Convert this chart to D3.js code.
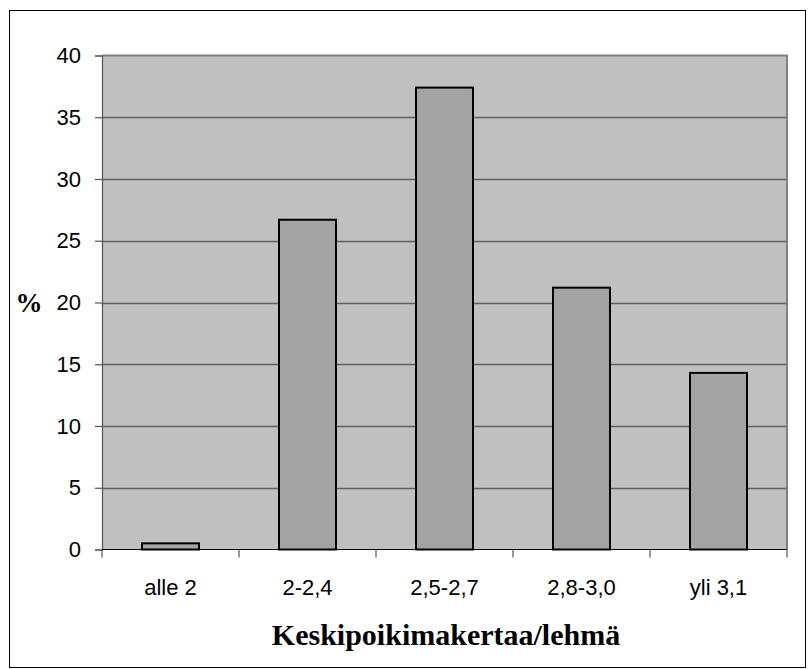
<!DOCTYPE html>
<html>
<head>
<meta charset="utf-8">
<script src="https://cdn.jsdelivr.net/npm/d3@7"></script>
<style>
  html, body { margin: 0; padding: 0; background: #ffffff; }
  svg { display: block; }
</style>
</head>
<body>
<svg id="chart" width="810" height="669"></svg>
<script>
// Share of herds (%) by mean number of calvings per cow
const categories = ["alle 2", "2-2,4", "2,5-2,7", "2,8-3,0", "yli 3,1"];
const shares = [0.5, 26.7, 37.4, 21.2, 14.3];
const yTicks = [0, 5, 10, 15, 20, 25, 30, 35, 40];
const yLabel = "%";
const xLabel = "Keskipoikimakertaa/lehmä";

const svg = d3.select("#chart");
const plot = { left: 102, top: 55.5, right: 787, bottom: 549.5 };

// outer frame
svg.append("rect")
  .attr("x", 9.5).attr("y", 10.5)
  .attr("width", 796).attr("height", 657)
  .attr("fill", "#ffffff").attr("stroke", "#000000").attr("stroke-width", 1);

const x = d3.scaleBand()
  .domain(categories)
  .range([plot.left, plot.right])
  .paddingInner(0.584).paddingOuter(0.292);

const band = d3.scaleBand().domain(categories).range([plot.left, plot.right]);

const y = d3.scaleLinear().domain([0, 40]).range([plot.bottom, plot.top]);

// plot area background
svg.append("rect")
  .attr("x", plot.left).attr("y", plot.top)
  .attr("width", plot.right - plot.left).attr("height", plot.bottom - plot.top)
  .attr("fill", "#c0c0c0");

// horizontal gridlines
svg.append("g")
  .selectAll("line")
  .data(yTicks.filter(t => t > 0 && t < 40))
  .join("line")
  .attr("x1", plot.left).attr("x2", plot.right)
  .attr("y1", d => Math.round(y(d)) + 0.5).attr("y2", d => Math.round(y(d)) + 0.5)
  .attr("stroke", "#5f5f5f").attr("stroke-width", 1.3);

// plot border (top and right)
svg.append("path")
  .attr("d", `M${plot.left},${plot.top}H${plot.right}V${plot.bottom}`)
  .attr("fill", "none").attr("stroke", "#808080").attr("stroke-width", 2);

// bars
svg.append("g")
  .selectAll("rect")
  .data(categories.map((c, i) => ({ c, v: shares[i] })))
  .join("rect")
  .attr("x", d => x(d.c))
  .attr("y", d => y(d.v))
  .attr("width", x.bandwidth())
  .attr("height", d => y(0) - y(d.v))
  .attr("fill", "#a4a4a4")
  .attr("stroke", "#000000")
  .attr("stroke-width", 2);

// y axis
const yAxis = d3.axisLeft(y).tickValues(yTicks).tickSize(7).tickPadding(14);
const gy = svg.append("g").attr("transform", `translate(${plot.left},0)`).call(yAxis);
gy.select(".domain").attr("stroke", "#555555").attr("stroke-width", 1.2);
gy.selectAll(".tick line").attr("stroke", "#555555").attr("stroke-width", 1.2);
gy.selectAll(".tick text")
  .attr("font-family", "Liberation Sans, Arial, sans-serif")
  .attr("font-size", 22).attr("fill", "#000000");

// x axis with ticks at category boundaries
const gx = svg.append("g").attr("transform", `translate(0,${plot.bottom})`);
gx.append("line")
  .attr("x1", plot.left).attr("x2", plot.right)
  .attr("stroke", "#000000").attr("stroke-width", 1.2);
gx.selectAll("line.tk")
  .data(categories.map(c => band(c)).concat([plot.right]))
  .join("line").attr("class", "tk")
  .attr("x1", d => d).attr("x2", d => d)
  .attr("y1", 0).attr("y2", 8)
  .attr("stroke", "#555555").attr("stroke-width", 1.2);
gx.selectAll("text")
  .data(categories)
  .join("text")
  .attr("x", d => band(d) + band.bandwidth() / 2)
  .attr("y", 45)
  .attr("text-anchor", "middle")
  .attr("font-family", "Liberation Sans, Arial, sans-serif")
  .attr("font-size", 22).attr("fill", "#000000")
  .text(d => d);

// axis titles
svg.append("text")
  .attr("x", 29).attr("y", 312)
  .attr("text-anchor", "middle")
  .attr("font-family", "Liberation Serif, Times New Roman, serif")
  .attr("font-weight", "bold").attr("font-size", 27)
  .text(yLabel);

svg.append("text")
  .attr("x", 446).attr("y", 645)
  .attr("text-anchor", "middle")
  .attr("font-family", "Liberation Serif, Times New Roman, serif")
  .attr("font-weight", "bold").attr("font-size", 30)
  .text(xLabel);
</script>
</body>
</html>
